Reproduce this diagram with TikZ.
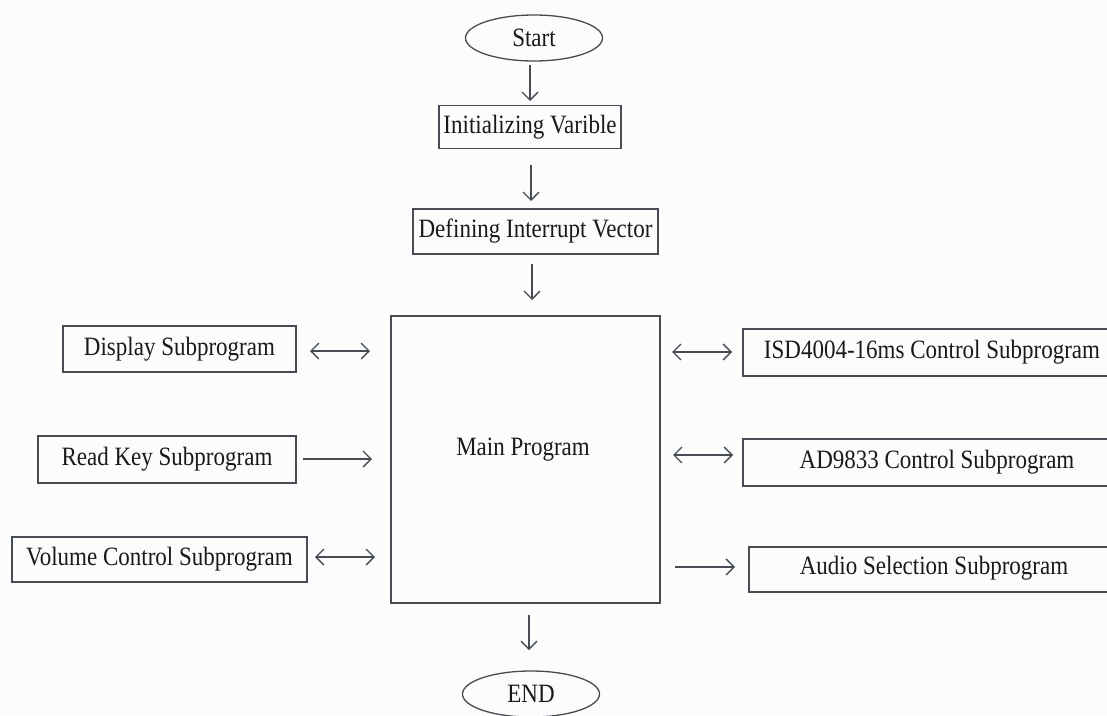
\documentclass[tikz,border=0pt]{standalone}
\usepackage{graphicx}
\usepackage{fontspec}
\setmainfont{Liberation Serif}
\usetikzlibrary{arrows.meta,shapes.geometric}
\definecolor{ln}{RGB}{70,76,84}
\definecolor{bg}{RGB}{252,252,252}
\newcommand{\tallt}[1]{\scalebox{1}[1.15]{#1}}
\tikzset{
  every node/.style={font=\fontsize{23}{26}\selectfont, text=black!90},
  box/.style={draw=ln, line width=1.5pt, rectangle, inner sep=0pt},
  oval/.style={draw=ln, line width=1.3pt, ellipse, inner sep=0pt, minimum width=137pt, minimum height=46pt},
  arr/.style={draw=ln, line width=1.3pt, -{Straight Barb[length=8pt,width=16pt]}},
  darr/.style={draw=ln, line width=1.3pt, {Straight Barb[length=8pt,width=16pt]}-{Straight Barb[length=8pt,width=16pt]}}
}
\begin{document}
\begin{tikzpicture}[x=1pt,y=-1pt]
\useasboundingbox (0,0) rectangle (1107,715);
\fill[bg] (0,0) rectangle (1107,715);
\clip (0,0) rectangle (1107,715);
% top chain
\node[oval] (start) at (534,38) {\tallt{Start}};
\node[box, minimum width=182pt, minimum height=43pt] (init) at (530,127) {\tallt{Initializing Varible}};
\node[box, minimum width=245pt, minimum height=45pt] (def) at (535.5,231.5) {\tallt{Defining Interrupt Vector}};
\node[box, minimum width=269pt, minimum height=287pt] (main) at (525.5,459.5) {};
\node (maintxt) at (523,450) {\tallt{Main Program}};
\node[oval] (end) at (531,694) {\tallt{END}};
% left boxes
\node[box, minimum width=233pt, minimum height=46pt] (disp) at (179.5,349) {\tallt{Display Subprogram}};
\node[box, minimum width=258pt, minimum height=47pt] (key) at (167,459.5) {\tallt{Read Key Subprogram}};
\node[box, minimum width=295pt, minimum height=45pt] (vol) at (159.5,559.5) {\tallt{Volume Control Subprogram}};
% right boxes
\node[box, minimum width=384pt, minimum height=47pt] (isd) at (935,352.5) {};
\node (isdt) at (932,352) {\tallt{ISD4004-16ms Control Subprogram}};
\node[box, minimum width=384pt, minimum height=47pt] (ad) at (935,462.5) {};
\node (adt) at (937,462) {\tallt{AD9833 Control Subprogram}};
\node[box, minimum width=374pt, minimum height=45pt] (aud) at (936,569.5) {};
\node (audt) at (934,568) {\tallt{Audio Selection Subprogram}};
% coordinates for arrows
\coordinate (a1s) at (530,65); \coordinate (a1e) at (530,101);
\coordinate (a2s) at (531,165); \coordinate (a2e) at (531,201);
\coordinate (a3s) at (532,264); \coordinate (a3e) at (532,300);
\coordinate (a4s) at (529,615); \coordinate (a4e) at (529,650);
\draw[arr] (a1s) -- (a1e);
\draw[arr] (a2s) -- (a2e);
\draw[arr] (a3s) -- (a3e);
\draw[arr] (a4s) -- (a4e);
% left arrows
\coordinate (l1s) at (310,351); \coordinate (l1e) at (370,351);
\coordinate (l2s) at (303,459); \coordinate (l2e) at (372,459);
\coordinate (l3s) at (315,557); \coordinate (l3e) at (375,557);
\draw[darr] (l1s) -- (l1e);
\draw[arr] (l2s) -- (l2e);
\draw[darr] (l3s) -- (l3e);
% right arrows
\coordinate (r1s) at (672,352); \coordinate (r1e) at (732,352);
\coordinate (r2s) at (673,455); \coordinate (r2e) at (733,455);
\coordinate (r3s) at (675,567); \coordinate (r3e) at (735,567);
\draw[darr] (r1s) -- (r1e);
\draw[darr] (r2s) -- (r2e);
\draw[arr] (r3s) -- (r3e);
\end{tikzpicture}
\end{document}
